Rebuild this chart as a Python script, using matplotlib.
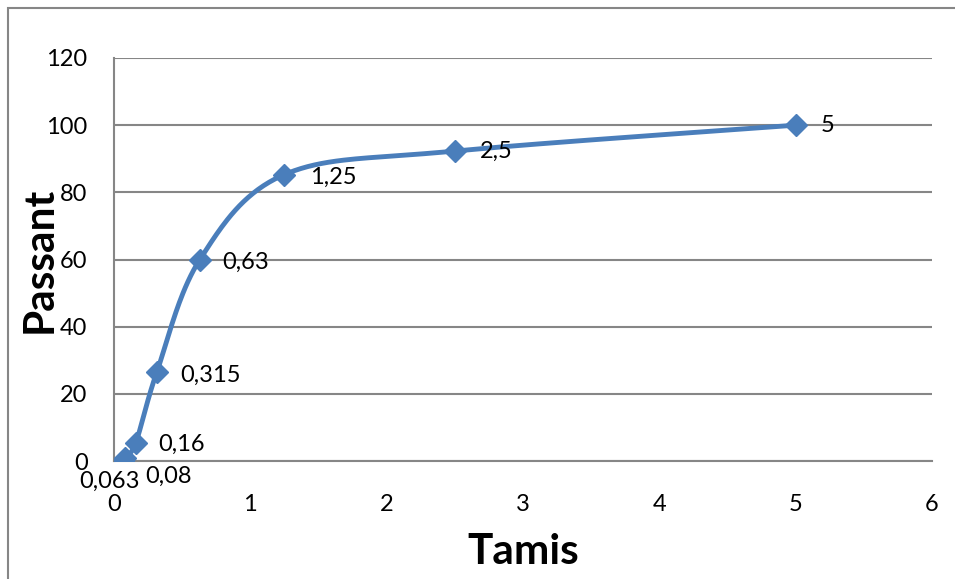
import numpy as np
import matplotlib.pyplot as plt
from matplotlib.patches import Rectangle

# Tamis (mm) et pourcentage passant
tamis = [0.063, 0.08, 0.16, 0.315, 0.63, 1.25, 2.5, 5]
passant = [0, 1, 5.5, 26.6, 60, 85.3, 92.3, 100]
labels = ["0,063", "0,08", "0,16", "0,315", "0,63", "1,25", "2,5", "5"]
# label offsets in points (dx, dy) and horizontal alignment
offsets = [(12, -15, "right"), (14.5, -13.5, "left"), (16, -1.5, "left"), (17, -3, "left"),
           (16, -2, "left"), (18.5, -2, "left"), (18, 0, "left"), (18, 0, "left")]

plt.rcParams['font.family'] = ['Lato', 'DejaVu Sans']

line_color = "#4a7ebb"
grid_color = "#868686"


def smooth_curve(x, y, n=40):
    # Bezier smoothing through all points, Excel-like
    x = np.asarray(x, float)
    y = np.asarray(y, float)
    pts = np.column_stack([x, y])
    out = []
    for i in range(len(pts) - 1):
        p0 = pts[i - 1] if i > 0 else pts[i]
        p1 = pts[i]
        p2 = pts[i + 1]
        p3 = pts[i + 2] if i + 2 < len(pts) else pts[i + 1]
        c1 = p1 + (p2 - p0) / 6
        c2 = p2 - (p3 - p1) / 6
        t = np.linspace(0, 1, n)[:, None]
        seg = ((1 - t) ** 3) * p1 + 3 * ((1 - t) ** 2) * t * c1 + 3 * (1 - t) * t ** 2 * c2 + t ** 3 * p2
        out.append(seg if i == 0 else seg[1:])
    out = np.vstack(out)
    return out[:, 0], out[:, 1]


fig = plt.figure(figsize=(9.55, 5.79), dpi=100)
ax = fig.add_axes([114 / 955, 1 - 461 / 579, (932 - 114) / 955, (461 - 58) / 579])

# chart border
fig.patches.append(Rectangle((8 / 955, -0.1), 1.2, 1 - 8 / 579 + 0.1, transform=fig.transFigure,
                             fill=False, edgecolor=grid_color, linewidth=1.5))

sx, sy = smooth_curve(tamis, passant)
ax.plot(sx, sy, color=line_color, linewidth=3.5, solid_capstyle="round", zorder=3)
ax.plot(tamis, passant, linestyle="none", marker="D", markersize=11,
        color=line_color, zorder=4)

for xv, yv, txt, (dx, dy, ha) in zip(tamis, passant, labels, offsets):
    ax.annotate(txt, (xv, yv), xytext=(dx, dy), textcoords="offset points",
                ha=ha, va="center", fontsize=17)

ax.set_xlim(0, 6)
ax.set_ylim(0, 120)
ax.set_xticks(range(0, 7))
ax.set_yticks(range(0, 121, 20))
ax.tick_params(labelsize=17, length=0)
ax.tick_params(axis="x", pad=24)
ax.tick_params(axis="y", pad=19)
ax.grid(axis="y", color=grid_color, linewidth=1.5)
ax.set_axisbelow(True)
for side in ["top", "right"]:
    ax.spines[side].set_visible(False)
for side in ["left", "bottom"]:
    ax.spines[side].set_color(grid_color)
    ax.spines[side].set_linewidth(1.5)

ax.set_xlabel("Tamis", fontsize=30.5, fontweight="bold", labelpad=13)
ax.set_ylabel("Passant", fontsize=30.5, fontweight="bold", labelpad=-9)

plt.savefig("out.png", dpi=100)
